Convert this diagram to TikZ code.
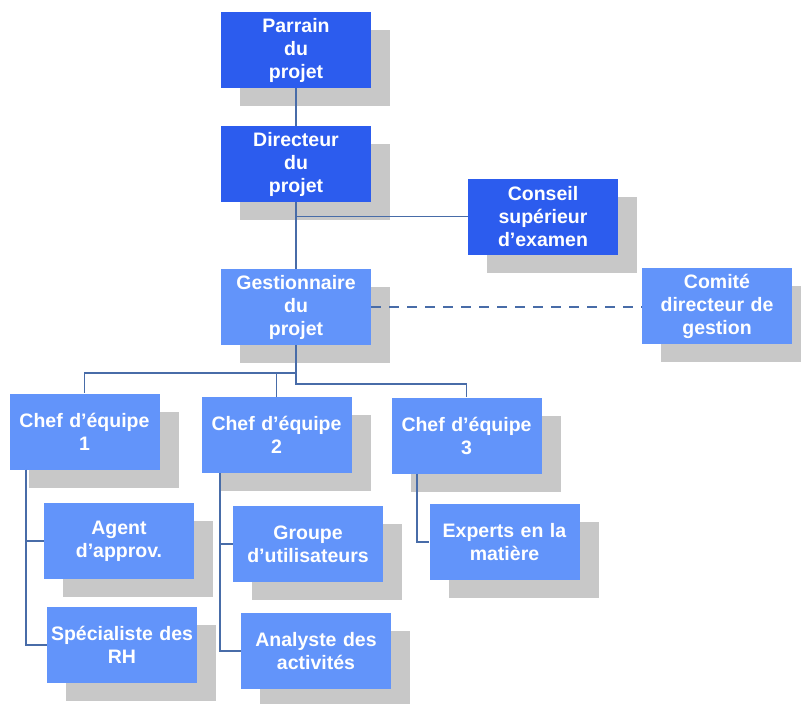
\documentclass[tikz,border=0pt]{standalone}
\usepackage{fontspec}
\setmainfont{Liberation Sans}
\usepackage{tikz}
\usetikzlibrary{shadows}

\definecolor{bleufonce}{RGB}{44,92,238}
\definecolor{bleuclair}{RGB}{98,148,250}
\definecolor{ombre}{RGB}{200,200,200}
\definecolor{trait}{RGB}{72,108,168}

\begin{document}
\begin{tikzpicture}[
			x=1pt,y=1pt,
			poste/.style={
				rectangle,
				minimum width=150pt,
				minimum height=76pt,
				text width=150pt,
				inner sep=0pt,
				align=center,
				text=white,
				font=\fontsize{19.5}{23}\selectfont\bfseries,
				general shadow={fill=ombre, shadow xshift=19pt, shadow yshift=-18pt},
			},
			dposte/.style={
				poste,
				fill=bleufonce,
			},
			lposte/.style={
				poste,
				fill=bleuclair,
			},
			lien/.style={
				draw=trait,
				line width=1.8pt,
			}
		]
		\useasboundingbox (0,0) rectangle (801,-704);

		\node[dposte] (parrain) at (296,-50) {Parrain\\du\\projet};
		\node[dposte] (directeur) at (296,-164) {Directeur\\du\\projet};
		\node[dposte] (conseil) at (543,-216.5) {Conseil\\supérieur\\d’examen};
		\node[lposte] (gestion) at (296,-307) {Gestionnaire\\du\\projet};
		\node[lposte] (comite) at (717,-306) {Comité\\directeur de\\gestion};

		\node[lposte] (chef1) at (84.5,-431.5) {Chef d’équipe\\1};
		\node[lposte] (chef2) at (276.5,-435) {Chef d’équipe\\2};
		\node[lposte] (chef3) at (466.5,-435.5) {Chef d’équipe\\3};

		\node[lposte] (agent) at (119,-541) {Agent\\d’approv.};
		\node[lposte] (rh) at (122,-645) {Spécialiste des\\RH};
		\node[lposte] (groupe) at (308,-544) {Groupe\\d’utilisateurs};
		\node[lposte] (analyste) at (316,-651) {Analyste des\\activités};
		\node[lposte] (experts) at (504.5,-542) {Experts en la\\matière};

		\coordinate (b0) at (296,-216.5);
		\coordinate (b1) at (296,-373);
		\coordinate (b2) at (296,-384);

		\draw[lien] (parrain) -- (directeur);
		\draw[lien] (directeur) -- (gestion);
		\draw[lien] (b0) -- (conseil.west);
		\draw[lien,dash pattern=on 10pt off 8pt] (gestion.east) -- (gestion.east -| comite.west);

		\draw[lien] (gestion.south) -- (b2) -| (chef3.north);
		\draw[lien] (b1) -| (chef1.north);
		\draw[lien] (chef2.north) -- (chef2.north |- b1);

		\draw[lien] ([xshift=17pt]chef1.south west) |- (agent.west);
		\draw[lien] ([xshift=17pt]chef1.south west) |- (rh.west);
		\draw[lien] ([xshift=19pt]chef2.south west) |- (groupe.west);
		\draw[lien] ([xshift=19pt]chef2.south west) |- (analyste.west);
		\draw[lien] ([xshift=26pt]chef3.south west) |- (experts.west);

	\end{tikzpicture}
\end{document}
